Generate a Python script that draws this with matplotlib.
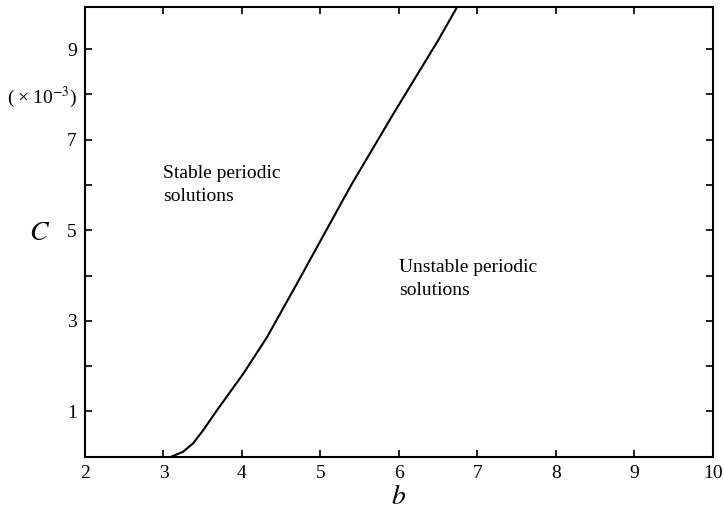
import matplotlib
matplotlib.use("Agg")
import matplotlib.pyplot as plt

# Curve: b vs C (x 10^-3)
b_vals = [3.10, 3.25, 3.38, 3.50, 3.68, 3.85, 4.02, 4.32, 4.72, 5.04, 5.40, 5.93, 6.50, 6.74]
c_vals = [0.00, 0.11, 0.30, 0.57, 1.02, 1.43, 1.84, 2.64, 3.88, 4.89, 6.02, 7.57, 9.19, 9.92]

x_ticks = [2, 3, 4, 5, 6, 7, 8, 9, 10]
y_ticks = [1, 2, 3, 4, 5, 6, 7, 8, 9]
y_labels = ["1", "", "3", "", "5", "", "7", "(\u2009\u00d7\u200910$^{-3}$)", "9"]

plt.rcParams['font.family'] = ['Liberation Serif', 'DejaVu Serif']
plt.rcParams['mathtext.fontset'] = 'stix'

fig = plt.figure(figsize=(7.24, 5.17), dpi=100)
ax = fig.add_axes([0.1174, 0.1166, 0.867, 0.870])

ax.plot(b_vals, c_vals, color='black', lw=1.5, solid_joinstyle='round')

ax.set_xlim(2, 10)
ax.set_ylim(0, 9.93)
ax.set_xticks(x_ticks)
ax.set_xticklabels([str(v) for v in x_ticks], fontsize=14)
ax.set_yticks(y_ticks)
ax.set_yticklabels(y_labels, fontsize=14)
ax.tick_params(direction='in', length=5, width=1.2, top=True, right=True, pad=6)
for s in ax.spines.values():
    s.set_linewidth(1.5)

ax.set_xlabel('$b$', fontsize=20, labelpad=2)
fig.text(40 / 724, 1 - 233 / 517, '$C$', fontsize=20, ha='center', va='center')

ax.text(3.0, 6.0, 'Stable periodic\nsolutions', fontsize=14, ha='left', va='center', linespacing=1.5)
ax.text(6.0, 3.92, 'Unstable periodic\nsolutions', fontsize=14, ha='left', va='center', linespacing=1.5)

fig.savefig('out.png', dpi=100)
